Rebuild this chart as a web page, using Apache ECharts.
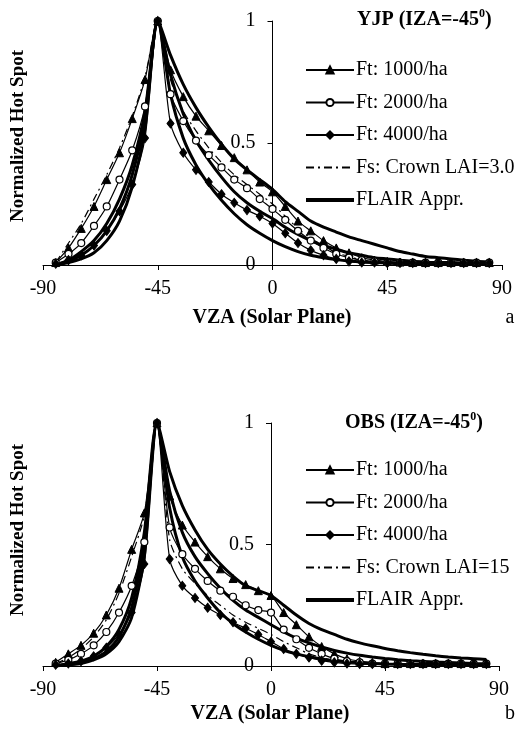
<!DOCTYPE html>
<html>
<head>
<meta charset="utf-8">
<style>
html,body{margin:0;padding:0;background:#fff;}
#chart{width:517px;height:733px;}
</style>
<script src="https://cdn.jsdelivr.net/npm/echarts@6/dist/echarts.min.js"></script>
</head>
<body>
<div id="chart"></div>
<script>
// View zenith angles (degrees), -85 .. 85 step 5
const angles = [-85,-80,-75,-70,-65,-60,-55,-50,-45,-40,-35,-30,-25,-20,-15,-10,-5,0,5,10,15,20,25,30,35,40,45,50,55,60,65,70,75,80,85];
const xTicks = [-90,-45,0,45,90];
const yTicks = [0,0.5,1];

// Panel a: YJP
const a_ft1000 = [0.01,0.07,0.15,0.24,0.35,0.46,0.60,0.76,1.0,0.80,0.69,0.61,0.55,0.49,0.44,0.39,0.34,0.30,0.24,0.18,0.14,0.10,0.07,0.05,0.03,0.02,0.015,0.012,0.01,0.01,0.01,0.01,0.01,0.01,0.01];
const a_ft2000 = [0.01,0.045,0.09,0.16,0.24,0.35,0.47,0.65,1.0,0.70,0.59,0.51,0.45,0.40,0.35,0.315,0.27,0.23,0.185,0.14,0.10,0.07,0.045,0.03,0.02,0.015,0.01,0.01,0.01,0.01,0.01,0.01,0.01,0.01,0.01];
const a_ft4000 = [0.005,0.02,0.04,0.08,0.14,0.22,0.33,0.52,1.0,0.58,0.46,0.39,0.34,0.29,0.255,0.225,0.20,0.17,0.13,0.09,0.06,0.04,0.025,0.015,0.01,0.01,0.008,0.008,0.008,0.008,0.008,0.008,0.008,0.008,0.008];
const a_fs = [0.01,0.09,0.17,0.27,0.37,0.48,0.61,0.77,1.0,0.76,0.63,0.55,0.48,0.42,0.37,0.33,0.29,0.25,0.20,0.15,0.11,0.08,0.05,0.035,0.02,0.015,0.01,0.01,0.01,0.01,0.01,0.01,0.01,0.01,0.01];
const a_flair1 = [0,0.01,0.025,0.05,0.10,0.18,0.32,0.56,1.0,0.86,0.74,0.645,0.565,0.495,0.435,0.39,0.35,0.31,0.26,0.22,0.18,0.155,0.135,0.115,0.10,0.085,0.07,0.055,0.045,0.035,0.03,0.025,0.02,0.015,0.012];
const a_flair2 = [0,0.015,0.04,0.08,0.14,0.23,0.37,0.60,1.0,0.78,0.62,0.51,0.43,0.36,0.30,0.255,0.22,0.19,0.155,0.125,0.10,0.08,0.065,0.05,0.04,0.03,0.025,0.02,0.015,0.012,0.01,0.01,0.008,0.008,0.006];
const a_flair3 = [0,0.02,0.055,0.10,0.17,0.27,0.41,0.63,1.0,0.70,0.52,0.41,0.33,0.265,0.21,0.165,0.13,0.10,0.075,0.055,0.04,0.03,0.022,0.016,0.012,0.01,0.008,0.006,0.006,0.005,0.005,0.005,0.005,0.005,0.005];

// Panel b: OBS
const b_ft1000 = [0.015,0.05,0.085,0.135,0.21,0.32,0.48,0.63,1.0,0.70,0.58,0.51,0.45,0.40,0.36,0.335,0.31,0.29,0.22,0.17,0.12,0.08,0.05,0.03,0.02,0.015,0.01,0.01,0.01,0.01,0.01,0.01,0.01,0.01,0.01];
const b_ft2000 = [0.01,0.025,0.05,0.085,0.14,0.22,0.33,0.51,1.0,0.57,0.46,0.40,0.35,0.31,0.285,0.25,0.23,0.22,0.15,0.11,0.075,0.05,0.03,0.02,0.015,0.01,0.01,0.01,0.01,0.01,0.01,0.01,0.01,0.01,0.01];
const b_ft4000 = [0.005,0.01,0.02,0.04,0.075,0.13,0.22,0.42,1.0,0.44,0.33,0.28,0.24,0.21,0.18,0.155,0.13,0.10,0.07,0.05,0.035,0.022,0.015,0.01,0.008,0.008,0.008,0.008,0.008,0.008,0.008,0.008,0.008,0.008,0.008];
const b_fs = [0.01,0.035,0.07,0.12,0.19,0.30,0.45,0.62,1.0,0.52,0.40,0.34,0.29,0.25,0.21,0.18,0.155,0.13,0.10,0.075,0.05,0.035,0.022,0.015,0.01,0.008,0.008,0.008,0.008,0.008,0.008,0.008,0.008,0.008,0.008];
const b_flair1 = [0,0.01,0.02,0.04,0.08,0.15,0.28,0.55,1.0,0.80,0.66,0.56,0.48,0.42,0.37,0.33,0.31,0.29,0.25,0.21,0.175,0.15,0.13,0.11,0.095,0.083,0.072,0.063,0.055,0.048,0.042,0.037,0.033,0.03,0.027];
const b_flair2 = [0,0.005,0.015,0.03,0.06,0.12,0.24,0.50,1.0,0.72,0.55,0.45,0.38,0.32,0.27,0.23,0.20,0.17,0.14,0.115,0.095,0.078,0.064,0.053,0.044,0.037,0.031,0.026,0.022,0.019,0.016,0.014,0.012,0.01,0.009];
const b_flair3 = [0,0.005,0.01,0.025,0.05,0.10,0.20,0.45,1.0,0.65,0.45,0.35,0.28,0.22,0.175,0.14,0.11,0.085,0.065,0.05,0.038,0.029,0.022,0.017,0.013,0.01,0.008,0.007,0.006,0.005,0.005,0.005,0.005,0.005,0.005];

const names = {
  ft1000: 'Ft: 1000/ha', ft2000: 'Ft: 2000/ha', ft4000: 'Ft: 4000/ha',
  fsA: 'Fs: Crown LAI=3.0', fsB: 'Fs: Crown LAI=15', flair: 'FLAIR Appr.'
};
const titles = ['YJP (IZA=-45', 'OBS (IZA=-45'];

const FONT = '"Liberation Serif", "Times New Roman", serif';
const pair = vals => angles.map((a, i) => [a, vals[i]]);

function markerSeries(name, vals, idx, kind) {
  const s = {
    type: 'line', name, data: pair(vals), xAxisIndex: idx, yAxisIndex: idx,
    smooth: 0.25, lineStyle: { color: '#000', width: 1.2 },
    itemStyle: { color: '#000', borderColor: '#000', borderWidth: 1 },
    showSymbol: true, z: 3
  };
  if (kind === 'tri') { s.symbol = 'triangle'; s.symbolSize = 8; }
  if (kind === 'circ') { s.symbol = 'circle'; s.symbolSize = 7; s.itemStyle = { color: '#fff', borderColor: '#000', borderWidth: 1.2 }; }
  if (kind === 'dia') { s.symbol = 'diamond'; s.symbolSize = [7, 9]; }
  if (kind === 'fs') { s.symbol = 'none'; s.showSymbol = false; s.lineStyle = { color: '#000', width: 1.2, type: [8, 4, 2, 4] }; }
  return s;
}
function flairSeries(vals, idx) {
  return { type: 'line', name: names.flair, data: pair(vals), xAxisIndex: idx, yAxisIndex: idx,
    smooth: 0.25, symbol: 'none', showSymbol: false,
    lineStyle: { color: '#000', width: 3 }, itemStyle: { color: '#000' }, z: 2 };
}

const grids = [
  { left: 43, right: 15, top: 21, bottom: 468 },
  { left: 43, right: 18, top: 423, bottom: 67 }
];
const gridWidths = [517 - 43 - 15, 517 - 43 - 18];
const xAxes = grids.map((g, i) => ({
  type: 'value', gridIndex: i, min: -90, max: 90, interval: 45,
  axisLine: { onZero: false, lineStyle: { color: '#000', width: 1 } },
  axisTick: { show: true, length: 5, lineStyle: { color: '#000' } },
  axisLabel: { color: '#000', fontFamily: FONT, fontSize: 20, margin: 14 },
  splitLine: { show: false }
}));
const yAxes = grids.map((g, i) => ({
  type: 'value', gridIndex: i, min: 0, max: 1, interval: 0.5,
  position: 'left', offset: -gridWidths[i] / 2,
  axisLine: { show: true, onZero: false, lineStyle: { color: '#000', width: 1 } },
  axisTick: { show: true, length: 5, lineStyle: { color: '#000' } },
  axisLabel: { color: '#000', fontFamily: FONT, fontSize: 20, margin: 17 },
  splitLine: { show: false }
}));

const series = [
  flairSeries(a_flair1, 0), flairSeries(a_flair2, 0), flairSeries(a_flair3, 0),
  markerSeries(names.ft1000, a_ft1000, 0, 'tri'),
  markerSeries(names.ft2000, a_ft2000, 0, 'circ'),
  markerSeries(names.ft4000, a_ft4000, 0, 'dia'),
  markerSeries(names.fsA, a_fs, 0, 'fs'),
  flairSeries(b_flair1, 1), flairSeries(b_flair2, 1), flairSeries(b_flair3, 1),
  markerSeries(names.ft1000, b_ft1000, 1, 'tri'),
  markerSeries(names.ft2000, b_ft2000, 1, 'circ'),
  markerSeries(names.ft4000, b_ft4000, 1, 'dia'),
  markerSeries(names.fsB, b_fs, 1, 'fs')
];

function legend(top, fsName) {
  return {
    orient: 'vertical', left: 299, top: top, itemWidth: 48, itemHeight: 9, itemGap: 12.5,
    selectedMode: false,
    textStyle: { color: '#000', fontFamily: FONT, fontSize: 20, lineHeight: 20, padding: [0,0,0,-3] },
    data: [names.ft1000, names.ft2000, names.ft4000,
      { name: fsName, itemStyle: { opacity: 0 } },
      { name: names.flair, itemStyle: { opacity: 0 }, lineStyle: { width: 4 } }]
  };
}

const titleRich = {
  b: { fontFamily: FONT, fontSize: 20, fontWeight: 'bold', color: '#000', lineHeight: 24 },
  s: { fontFamily: FONT, fontSize: 12, fontWeight: 'bold', color: '#000', lineHeight: 24, verticalAlign: 'top', padding: [0,0,8,0] }
};

const chart = echarts.init(document.getElementById('chart'), null, { renderer: 'canvas' });
chart.setOption({
  animation: false,
  backgroundColor: '#fff',
  title: [
    { text: '{b|' + titles[0] + '}{s|0}{b|)}', left: 357, top: 8, padding: 0, textStyle: { rich: titleRich } },
    { text: '{b|' + titles[1] + '}{s|0}{b|)}', left: 345, top: 411, padding: 0, textStyle: { rich: titleRich } }
  ],
  legend: [legend(55, names.fsA), legend(455, names.fsB)],
  grid: grids,
  xAxis: xAxes,
  yAxis: yAxes,
  series: series,
  graphic: [
    { type: 'text', x: 18, y: 136, rotation: Math.PI / 2,
      style: { text: 'Normalized Hot Spot', font: 'bold 19px ' + FONT, fill: '#000', textAlign: 'center', textVerticalAlign: 'middle' } },
    { type: 'text', x: 18, y: 530, rotation: Math.PI / 2,
      style: { text: 'Normalized Hot Spot', font: 'bold 19px ' + FONT, fill: '#000', textAlign: 'center', textVerticalAlign: 'middle' } },
    { type: 'text', x: 272, y: 318,
      style: { text: 'VZA (Solar Plane)', font: 'bold 20px ' + FONT, fill: '#000', textAlign: 'center', textVerticalAlign: 'middle' } },
    { type: 'text', x: 270, y: 714,
      style: { text: 'VZA (Solar Plane)', font: 'bold 20px ' + FONT, fill: '#000', textAlign: 'center', textVerticalAlign: 'middle' } },
    { type: 'text', x: 510, y: 318,
      style: { text: 'a', font: '20px ' + FONT, fill: '#000', textAlign: 'center', textVerticalAlign: 'middle' } },
    { type: 'text', x: 510, y: 714,
      style: { text: 'b', font: '20px ' + FONT, fill: '#000', textAlign: 'center', textVerticalAlign: 'middle' } }
  ]
});
</script>
</body>
</html>
